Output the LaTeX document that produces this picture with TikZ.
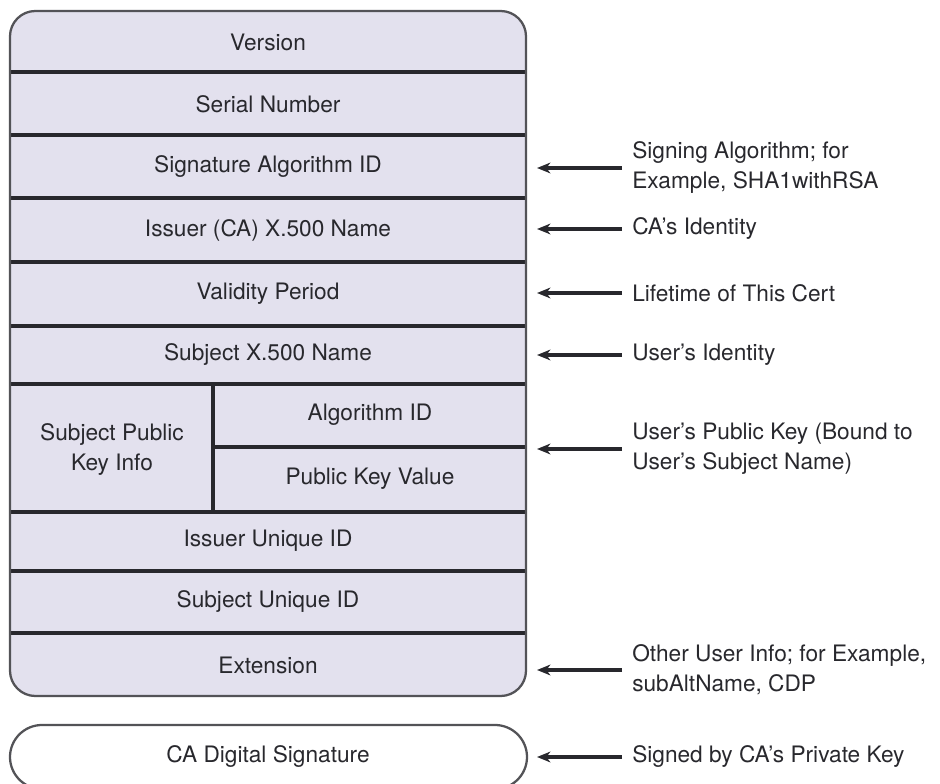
\documentclass[tikz,border=0pt]{standalone}
\usepackage{fontspec}
\setmainfont{TeX Gyre Heros}
\usetikzlibrary{arrows.meta}
\definecolor{certfill}{RGB}{227,225,238}
\definecolor{ink}{RGB}{40,40,45}

\begin{document}
\begin{tikzpicture}[x=.75pt, y=-.75pt,
	every node/.style={font=\fontsize{17}{22.5}\selectfont, text=ink},
	field/.style={align=center},
	note/.style={anchor=west, align=left, inner xsep=7.5pt},
	sep/.style={line width=2.4pt, draw=ink},
	border/.style={line width=1.7pt, draw=ink!80},
	arr/.style={line width=2.4pt, draw=ink, -{Stealth[length=10pt, width=8pt, inset=3pt]}}]
	\useasboundingbox (0,0) rectangle (940,784);
	\clip (0,0) rectangle (940,784);

	% certificate body
	\fill[certfill, rounded corners=19pt] (10,11) rectangle (526,696);
	\foreach \y in {72,135,198,262,326,384,512,571,633}
		\draw[sep] (10,\y) -- (526,\y);
	\draw[sep] (213,384) -- (213,512);
	\draw[sep] (213,447) -- (526,447);
	\draw[border, rounded corners=19pt] (10,11) rectangle (526,696);

	% signature
	\draw[border, rounded corners=24pt] (10,725) rectangle (527,789);

	\node[field] (ver) at (268,42) {Version};
	\node[field] (serial) at (268,104) {Serial Number};
	\node[field] (sigalg) at (268,167) {Signature Algorithm ID};
	\node[field] (issuer) at (268,230) {Issuer (CA) X.500 Name};
	\node[field] (valid) at (268,294) {Validity Period};
	\node[field] (subj) at (268,355) {Subject X.500 Name};
	\node[field] (spki) at (112,450) {Subject Public\\Key Info};
	\node[field] (algid) at (370,415) {Algorithm ID};
	\node[field] (pkv) at (370,479) {Public Key Value};
	\node[field] (issuid) at (268,541) {Issuer Unique ID};
	\node[field] (subjuid) at (268,602) {Subject Unique ID};
	\node[field] (ext) at (268,665) {Extension};
	\node[field] (casig) at (268,757) {CA Digital Signature};

	\coordinate (edge) at (537,0);

	\node[note] (nsig) at (622,168) {Signing Algorithm; for\\Example, SHA1withRSA};
	\node[note] (nissuer) at (622,229) {CA's Identity};
	\node[note] (nvalid) at (622,293) {Lifetime of This Cert};
	\node[note] (nsubj) at (622,355) {User's Identity};
	\node[note] (nkey) at (622,449) {User's Public Key (Bound to\\User's Subject Name)};
	\node[note] (next) at (622,670) {Other User Info; for Example,\\subAltName, CDP};
	\node[note] (nsign) at (622,757) {Signed by CA's Private Key};

	\foreach \n in {nsig,nissuer,nvalid,nsubj,nkey,next,nsign}
		\draw[arr] (\n.west) -- (\n.west -| edge);
\end{tikzpicture}
\end{document}
